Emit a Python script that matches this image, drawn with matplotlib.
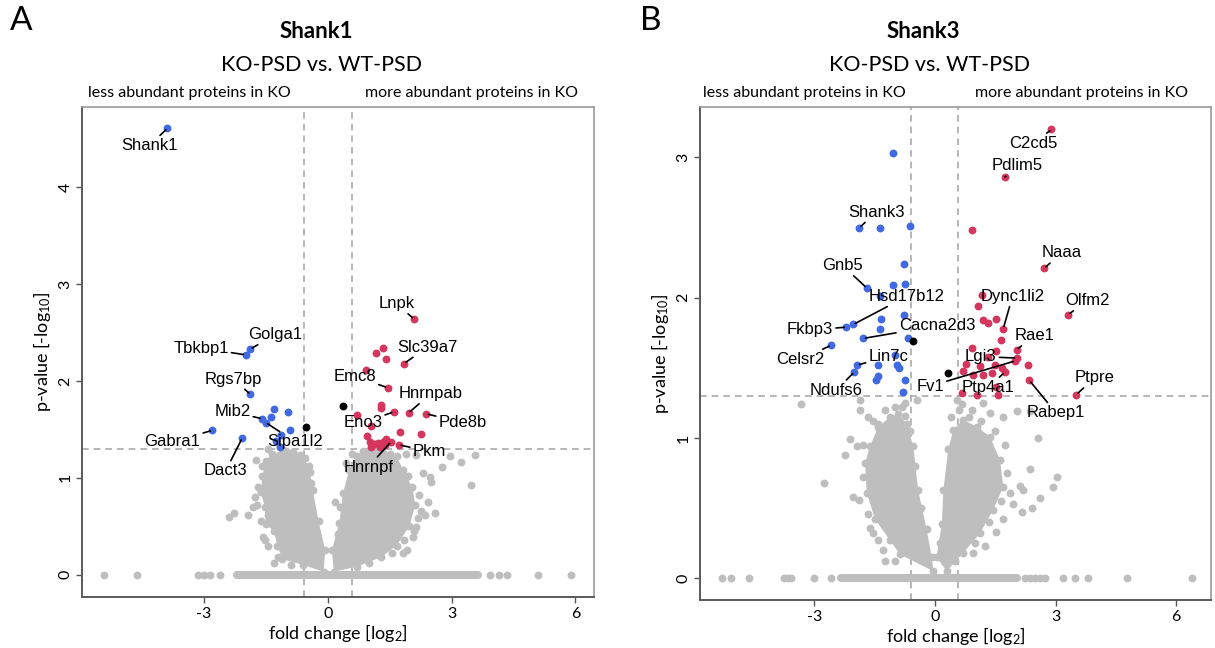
import matplotlib
matplotlib.use("Agg")
import matplotlib.pyplot as plt

# ---------------- data: panel A (Shank1) ----------------
a_blue_x = [-3.88, -1.87, -1.99, -1.87, -1.30, -0.95, -1.38, -1.59, -1.50, -0.92, -2.79, -2.07, -1.14, -1.24, -1.16]
a_blue_y = [4.61, 2.33, 2.27, 1.86, 1.71, 1.68, 1.63, 1.61, 1.57, 1.49, 1.49, 1.41, 1.44, 1.38, 1.32]
a_red_x = [2.09, 1.16, 1.33, 1.41, 1.85, 0.92, 1.45, 1.28, 1.29, 0.70, 1.60, 1.96, 2.39, 1.04, 1.76, 2.27,
           0.94, 1.02, 1.12, 1.22, 1.33, 1.42, 1.06, 1.26, 1.38, 1.53, 1.73]
a_red_y = [2.64, 2.29, 2.34, 2.23, 2.18, 2.11, 1.93, 1.75, 1.72, 1.65, 1.68, 1.67, 1.66, 1.53, 1.47, 1.45,
           1.43, 1.37, 1.35, 1.36, 1.37, 1.40, 1.32, 1.32, 1.34, 1.37, 1.34]
a_black_x = [-0.53, 0.37]
a_black_y = [1.52, 1.74]
a_grey_x = [-1.74, -2.39, -2.27, -1.93, -1.72, -1.56, -1.52, -1.20, -1.44, -1.32,
            2.47, 2.35, 2.59, 2.43, 2.51, 3.48, 3.24, 3.56, 2.96, 2.76, 2.31, 2.07, 1.91, 1.83, 2.15, 2.19, 0.17,
            -1.68, -1.75, -1.82, -1.62, -1.45, -1.30, -0.90, -1.10, -0.85, -0.55, -0.43, -0.40, -1.60, -1.45,
            0.45, 0.60, 0.85, 1.20, 1.50, 1.90, 2.15, 1.95, 2.20, 2.25, 2.10, 1.85, 1.55, 1.00, 0.30, 0.25]
a_grey_y = [1.18, 0.59, 0.64, 0.61, 0.72, 0.39, 0.36, 0.18, 1.30, 1.17,
            1.01, 0.62, 0.64, 0.75, 0.96, 0.93, 1.16, 1.23, 1.22, 1.11, 1.05, 0.39, 0.25, 0.22, 0.49, 0.58, 0.75,
            0.90, 0.80, 0.70, 0.55, 0.30, 0.12, 0.10, 1.30, 1.27, 1.20, 1.06, 0.95, 1.12, 0.62,
            1.15, 1.25, 1.28, 1.29, 1.25, 1.25, 1.24, 1.02, 0.82, 0.66, 0.45, 0.36, 0.22, 0.12, 0.70, 0.42]
a_core_left = [(-0.10, 0.03), (-0.60, 0.10), (-1.10, 0.16), (-1.22, 0.30), (-1.30, 0.45), (-1.50, 0.52),
               (-1.52, 0.70), (-1.62, 0.85), (-1.58, 1.02), (-1.50, 1.17), (-1.35, 1.25), (-1.00, 1.28),
               (-0.68, 1.24), (-0.45, 1.12), (-0.36, 0.87), (-0.22, 0.55), (-0.06, 0.25)]
a_core_right = [(0.10, 0.25), (0.28, 0.53), (0.37, 0.84), (0.52, 1.08), (0.70, 1.22), (1.02, 1.27),
                (1.34, 1.26), (1.67, 1.22), (1.83, 1.08), (2.05, 0.90), (2.12, 0.72), (1.98, 0.50),
                (1.67, 0.30), (1.30, 0.18), (0.70, 0.08), (0.15, 0.03)]
a_zero_dense = (-2.19, 3.64)
a_zero_x = [-5.42, -4.62, -3.15, -3.00, -2.85, -2.60, 3.93, 4.14, 4.35, 5.10, 5.90]
a_lab_names = ["Shank1", "Golga1", "Tbkbp1", "Rgs7bp", "Mib2", "Sipa1l2", "Gabra1", "Dact3",
               "Lnpk", "Slc39a7", "Emc8", "Hnrnpab", "Eno3", "Pde8b", "Pkm", "Hnrnpf"]
a_lab_x = [-3.88, -1.87, -1.99, -1.87, -1.59, -1.50, -2.79, -2.07, 2.09, 1.85, 1.45, 1.96, 1.60, 2.39, 1.73, 1.53]
a_lab_y = [4.61, 2.33, 2.27, 1.86, 1.61, 1.57, 1.49, 1.41, 2.64, 2.18, 1.93, 1.67, 1.68, 1.66, 1.34, 1.37]

# ---------------- data: panel B (Shank3) ----------------
b_blue_x = [-1.04, -1.88, -1.37, -0.61, -0.77, -1.04, -0.75, -1.70, -1.37, -0.76, -1.34, -2.03, -2.21, -1.37,
            -1.78, -0.66, -2.59, -1.93, -1.43, -1.00, -0.94, -0.89, -2.01, -1.43, -1.47, -0.74, -0.79]
b_blue_y = [3.03, 2.50, 2.50, 2.51, 2.24, 2.09, 2.10, 2.07, 2.01, 1.88, 1.85, 1.81, 1.79, 1.78,
            1.71, 1.71, 1.66, 1.52, 1.52, 1.59, 1.52, 1.50, 1.47, 1.44, 1.41, 1.41, 1.33]
b_red_x = [2.90, 1.74, 0.91, 2.72, 3.32, 1.16, 1.06, 1.20, 1.33, 1.53, 1.70, 1.64, 2.03, 0.91, 1.53, 1.33,
           2.03, 2.00, 0.77, 0.69, 1.12, 1.49, 1.66, 2.32, 0.95, 1.20, 1.41, 1.74, 2.35, 0.66, 1.04, 1.57,
           1.53, 3.52]
b_red_y = [3.20, 2.86, 2.48, 2.21, 1.88, 2.02, 1.94, 1.84, 1.82, 1.85, 1.78, 1.70, 1.63, 1.64, 1.62, 1.58,
           1.57, 1.55, 1.53, 1.48, 1.51, 1.52, 1.50, 1.52, 1.45, 1.45, 1.46, 1.47, 1.41, 1.32, 1.31, 1.31,
           1.36, 1.31]
b_black_x = [-0.54, 0.32]
b_black_y = [1.69, 1.46]
b_grey_x = [-3.33, -1.87, -1.87, -2.76, -2.24, -2.11, -1.95, -1.66, -1.43, -2.03, -1.90, -1.66, -1.62, -1.41,
            -1.24, -0.83, -0.75, -0.46, -0.75, 0.54, 0.66, 0.91, 1.20, 1.37, 1.70, 2.03, 2.36, 2.57, 2.36,
            3.03, 2.94, 2.61, 2.41, 2.16, 2.20, 2.11, 1.87, 1.95, 1.70, 1.53, 1.24, 0.95,
            -1.80, -1.55, -1.30, -1.00, -1.55, -1.25, -1.00, -0.62, -0.50, -0.35, -1.78,
            0.40, 0.60, 0.85, 1.15, 1.50, 1.75, 1.80, 1.65, 1.35, 1.00, 0.50, 0.12]
b_grey_y = [1.24, 1.27, 1.20, 0.68, 0.88, 0.99, 0.94, 1.15, 1.10, 0.58, 0.56, 0.46, 0.36, 0.27,
            0.12, 1.22, 1.25, 1.27, 1.16, 1.27, 1.24, 1.20, 1.25, 1.18, 1.15, 1.19, 1.19, 1.00, 0.78,
            0.72, 0.65, 0.57, 0.50, 0.47, 0.63, 0.66, 0.61, 0.53, 0.42, 0.33, 0.23, 0.18,
            0.72, 0.32, 0.20, 0.12, 1.12, 1.20, 1.22, 1.05, 0.80, 0.50, 0.95,
            1.15, 1.20, 1.15, 1.12, 1.05, 0.95, 0.75, 0.55, 0.40, 0.25, 0.12, 0.25]
b_core_left = [(-0.04, 0.05), (-0.87, 0.17), (-1.12, 0.27), (-1.49, 0.42), (-1.70, 0.61), (-1.74, 0.82),
               (-1.62, 0.94), (-1.41, 1.08), (-1.12, 1.15), (-0.91, 1.17), (-0.70, 1.10), (-0.54, 0.94),
               (-0.42, 0.63), (-0.21, 0.35), (-0.08, 0.15)]
b_core_right = [(0.04, 0.15), (0.17, 0.39), (0.21, 0.63), (0.33, 0.92), (0.46, 1.06), (0.70, 1.13),
                (1.04, 1.08), (1.37, 1.01), (1.62, 0.84), (1.70, 0.65), (1.45, 0.49), (1.12, 0.32),
                (0.70, 0.18), (0.29, 0.05)]
b_zero_dense = (-2.33, 2.03)
b_zero_x = [-5.29, -5.08, -4.64, -3.76, -3.66, -3.58, -3.00, -2.58, 2.24, 2.36, 2.48, 2.61, 2.73,
            3.19, 3.48, 3.81, 4.77, 6.40]
b_lab_names = ["Shank3", "Gnb5", "Hsd17b12", "Fkbp3", "Cacna2d3", "Celsr2", "Lin7c", "Ndufs6", "Fv1",
               "C2cd5", "Pdlim5", "Naaa", "Dync1li2", "Olfm2", "Rae1", "Lgi3", "Ptp4a1", "Ptpre", "Rabep1"]
b_lab_x = [-1.88, -1.70, -2.03, -2.21, -1.78, -2.59, -1.93, -2.01, 2.00, 2.90, 1.74, 2.72, 1.70, 3.32, 2.03,
           2.03, 1.74, 3.52, 2.35]
b_lab_y = [2.50, 2.07, 1.81, 1.79, 1.71, 1.66, 1.52, 1.47, 1.55, 3.20, 2.86, 2.21, 1.78, 1.88, 1.63,
           1.57, 1.47, 1.31, 1.41]

# ---------------- layout (label text positions) ----------------
a_text_pos = {"Shank1": (-4.32, 4.43), "Golga1": (-1.26, 2.48), "Tbkbp1": (-3.07, 2.34), "Rgs7bp": (-2.28, 2.02),
              "Mib2": (-2.31, 1.68), "Sipa1l2": (-0.78, 1.37), "Gabra1": (-3.76, 1.37), "Dact3": (-2.47, 1.07),
              "Lnpk": (1.66, 2.80), "Slc39a7": (2.42, 2.35), "Emc8": (0.65, 2.05), "Hnrnpab": (2.50, 1.87),
              "Eno3": (0.85, 1.57), "Pde8b": (3.27, 1.57), "Pkm": (2.46, 1.27), "Hnrnpf": (0.98, 1.11)}
b_text_pos = {"Shank3": (-1.46, 2.61), "Gnb5": (-2.30, 2.23), "Hsd17b12": (-0.70, 2.01), "Fkbp3": (-3.11, 1.77),
              "Cacna2d3": (0.05, 1.80), "Celsr2": (-3.36, 1.56), "Lin7c": (-1.16, 1.58), "Ndufs6": (-2.46, 1.34),
              "Fv1": (-0.12, 1.37), "C2cd5": (2.45, 3.10), "Pdlim5": (2.05, 2.94), "Naaa": (3.15, 2.32),
              "Dync1li2": (1.93, 2.01), "Olfm2": (3.79, 1.98), "Rae1": (2.49, 1.73), "Lgi3": (1.14, 1.58),
              "Ptp4a1": (1.33, 1.36), "Ptpre": (3.98, 1.43), "Rabep1": (3.01, 1.18)}

GREY = "#BEBEBE"
BLUE = "#4169E1"
RED = "#D5365E"
UI_FONT = "Lato"
LAB_FONT = "Liberation Sans"

plt.rcParams["font.family"] = UI_FONT
plt.rcParams["mathtext.default"] = "regular"

fig = plt.figure(figsize=(12.15, 6.48), dpi=100)
axA = fig.add_axes([0.0678, 0.0790, 0.4208, 0.7559])
axB = fig.add_axes([0.5761, 0.0741, 0.4206, 0.7608])


def draw_panel(ax, blue, red, black, grey, cores, zero_dense, zero_x, names, lx, ly, tpos,
               xlim, ylim, yticks):
    ms = 32
    for core in cores:
        xs = [p[0] for p in core]
        ys = [p[1] for p in core]
        ax.fill(xs, ys, color=GREY, lw=0, zorder=1)
        ax.scatter(xs, ys, s=ms, color=GREY, lw=0, zorder=1)
    ax.plot(list(zero_dense), [0, 0], color=GREY, lw=5.8, solid_capstyle="round", zorder=1)
    ax.scatter(zero_x, [0] * len(zero_x), s=ms, color=GREY, lw=0, zorder=1)
    ax.scatter(grey[0], grey[1], s=ms, color=GREY, lw=0, zorder=1)
    ax.scatter(blue[0], blue[1], s=ms, color=BLUE, lw=0, zorder=3)
    ax.scatter(red[0], red[1], s=ms, color=RED, lw=0, zorder=3)
    ax.scatter(black[0], black[1], s=ms, color="black", lw=0, zorder=3)

    ax.axvline(-0.585, color="#AAAAAA", ls=(0, (4, 3)), lw=1.2, zorder=0)
    ax.axvline(0.585, color="#AAAAAA", ls=(0, (4, 3)), lw=1.2, zorder=0)
    ax.axhline(1.301, color="#AAAAAA", ls=(0, (4, 3)), lw=1.2, zorder=0)

    for n, x, y in zip(names, lx, ly):
        tx, ty = tpos[n]
        ax.annotate(n, xy=(x, y), xytext=(tx, ty), ha="center", va="center",
                    fontsize=12, family=LAB_FONT, zorder=5,
                    arrowprops=dict(arrowstyle="-", color="black", lw=1.2,
                                    shrinkA=0, shrinkB=1.5))

    ax.set_xlim(*xlim)
    ax.set_ylim(*ylim)
    ax.set_xticks([-3, 0, 3, 6])
    ax.set_xticklabels(["-3", "0", "3", "6"])
    ax.set_yticks(yticks)
    ax.set_yticklabels([str(t) for t in yticks], rotation=90, va="center")
    ax.tick_params(labelsize=11.5, length=4, width=1, color="#555555", pad=3)
    for s in ["left", "bottom"]:
        ax.spines[s].set_color("#5a5a5a")
        ax.spines[s].set_linewidth(1.4)
    for s in ["top", "right"]:
        ax.spines[s].set_color("#9a9a9a")
        ax.spines[s].set_linewidth(1.2)
    ax.set_xlabel("fold change [log$_2$]", fontsize=13, labelpad=1)
    ax.set_ylabel("p-value [-log$_{10}$]", fontsize=13, labelpad=4)


draw_panel(axA, (a_blue_x, a_blue_y), (a_red_x, a_red_y), (a_black_x, a_black_y), (a_grey_x, a_grey_y),
           [a_core_left, a_core_right], a_zero_dense, a_zero_x, a_lab_names, a_lab_x, a_lab_y, a_text_pos,
           (-5.94, 6.44), (-0.23, 4.83), [0, 1, 2, 3, 4])
draw_panel(axB, (b_blue_x, b_blue_y), (b_red_x, b_red_y), (b_black_x, b_black_y), (b_grey_x, b_grey_y),
           [b_core_left, b_core_right], b_zero_dense, b_zero_x, b_lab_names, b_lab_x, b_lab_y, b_text_pos,
           (-5.85, 6.87), (-0.155, 3.36), [0, 1, 2, 3])

# headers
for xL, letter, title, xT, xS, xl, xm in [(0.008, "A", "Shank1", 0.260, 0.265, 0.156, 0.388),
                                          (0.527, "B", "Shank3", 0.760, 0.765, 0.662, 0.890)]:
    fig.text(xL, 0.968, letter, fontsize=24, ha="left", va="center")
    fig.text(xT, 0.951, title, fontsize=16, fontweight="bold", ha="center", va="center")
    fig.text(xS, 0.899, "KO-PSD vs. WT-PSD", fontsize=15.5, ha="center", va="center")
    fig.text(xl, 0.856, "less abundant proteins in KO", fontsize=11.5, ha="center", va="center")
    fig.text(xm, 0.856, "more abundant proteins in KO", fontsize=11.5, ha="center", va="center")

fig.savefig("out.png", dpi=100, facecolor="white")
